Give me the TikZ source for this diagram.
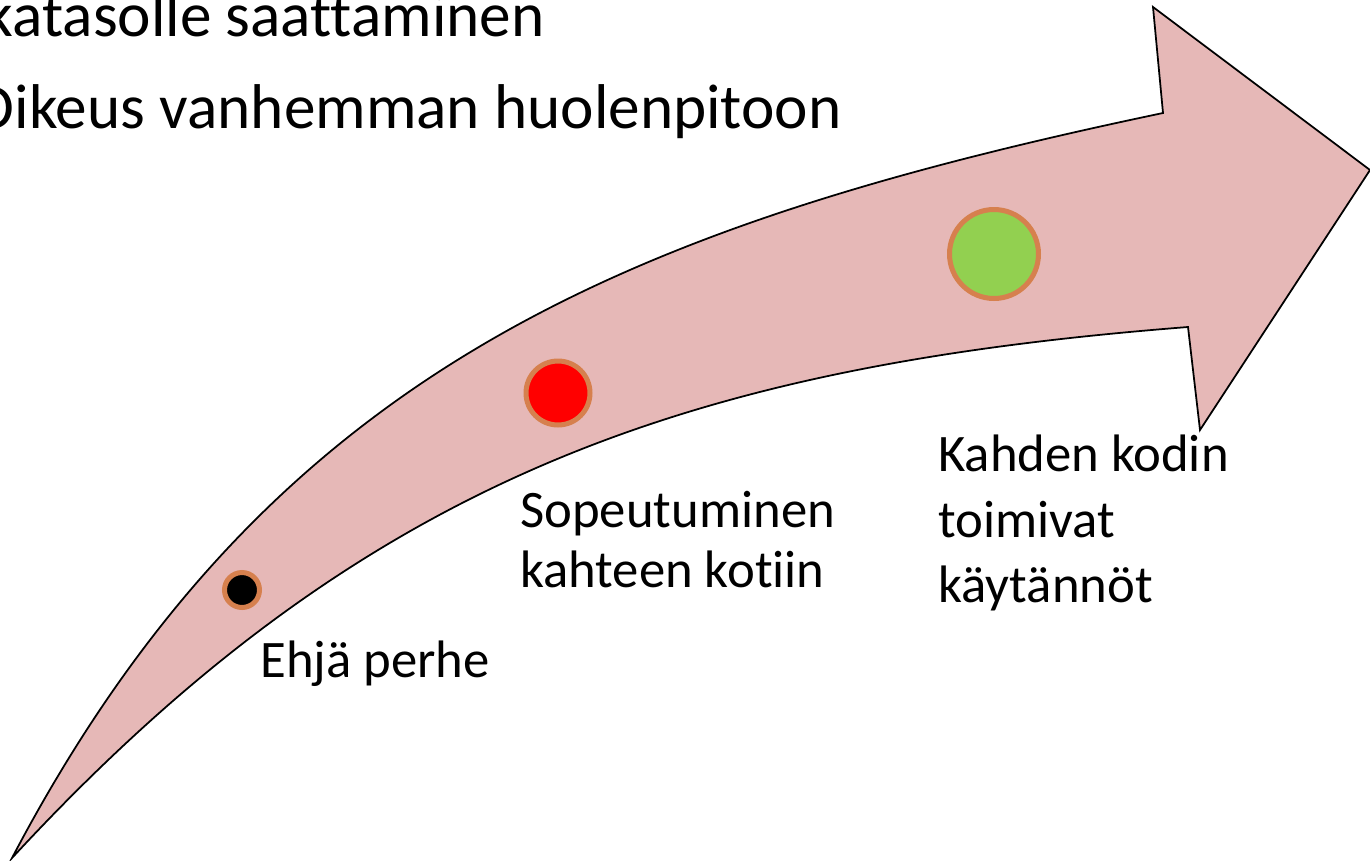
\documentclass[tikz,border=0pt]{standalone}
\usepackage{fontspec}
\setmainfont{Carlito}[Ligatures=NoCommon]
\usepackage{xcolor}
\usepackage{tikz}
\usetikzlibrary{positioning,calc}
\definecolor{arrowpink}{HTML}{E6B8B7}
\definecolor{ringorange}{HTML}{D6804E}
\definecolor{dotred}{HTML}{FF0000}
\definecolor{dotgreen}{HTML}{92D050}
\definecolor{dotblack}{HTML}{000000}
\tikzset{
  bigarrow/.style={fill=arrowpink,draw=black,line width=1pt,line join=miter},
  stage/.style={
    circle,draw=ringorange,line width=2.85pt,inner sep=0pt
  },
  toptext/.style={inner sep=0pt,font=\fontsize{36}{44}\selectfont},
  label/.style={
    inner sep=0pt,align=left,anchor=base west
  }
}

\begin{document}
\begin{tikzpicture}[x=0.02cm,y=-0.02cm]
\useasboundingbox (0,0) rectangle (1370,860);
\clip (0,0) rectangle (1370,860);
% curved arrow
\draw[bigarrow] (12,858) .. controls (268,371) and (625,226) .. (1163,113)
  -- (1153,7) -- (1370,170) -- (1200,430) -- (1188,327)
  .. controls (690,366) and (365,476) .. (12,858) -- cycle;
% stages on the arrow
\node[stage,fill=dotblack,minimum size=0.7cm] (ehja) at (242,590) {};
\node[stage,fill=dotred,minimum size=1.28cm] (sopeutuminen) at (558,393) {};
\node[stage,fill=dotgreen,minimum size=1.78cm] (kaksikotia) at (994,254) {};
% texts (base = last line)
\node[toptext,anchor=base east] (rivi1) at (545,36) {katasolle saattaminen};
\node[toptext,anchor=base east] (rivi2) at (842,128) {Oikeus vanhemman huolenpitoon};
\node[label,font=\fontsize{30}{34}\selectfont] (ehjateksti) at (260,677) {Ehjä perhe};
\node[label,font=\fontsize{30}{34}\selectfont] (sopteksti) at (520,587) {Sopeutuminen\\kahteen kotiin};
\node[label,font=\fontsize{30}{37}\selectfont] (kotiteksti) at (938,602) {Kahden kodin\\toimivat\\käytännöt};
\end{tikzpicture}
\end{document}
